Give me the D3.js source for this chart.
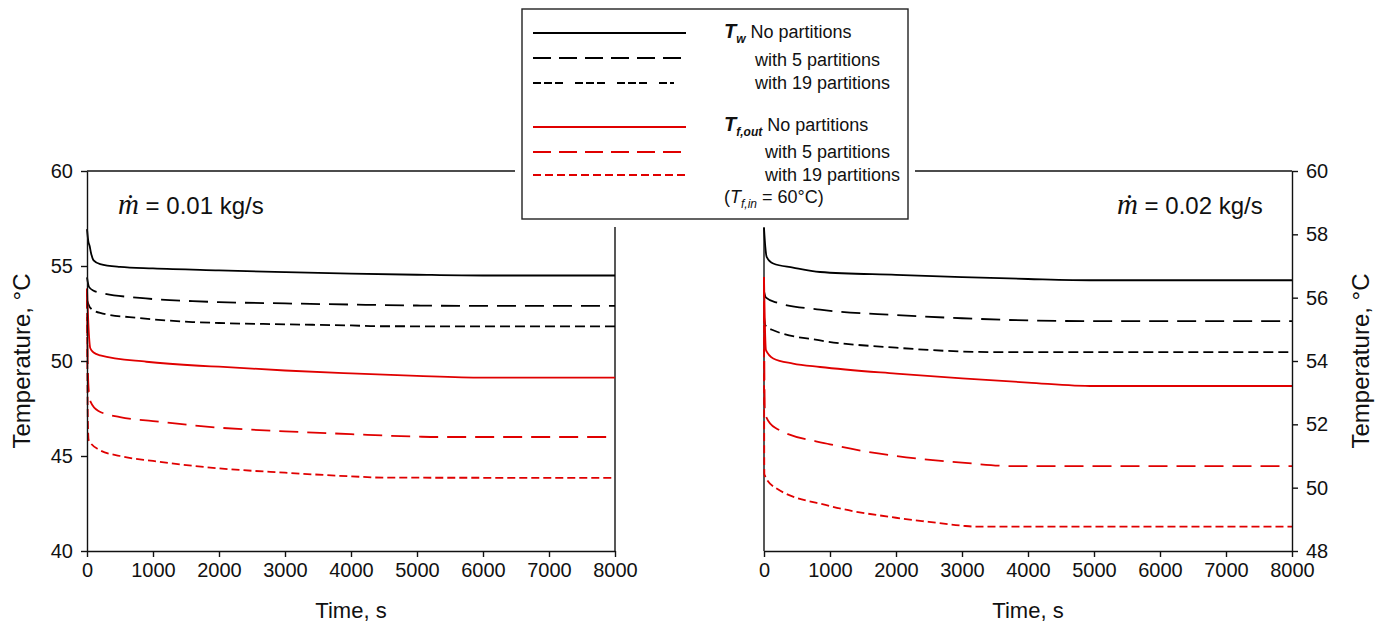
<!DOCTYPE html>
<html>
<head>
<meta charset="utf-8">
<script src="https://cdn.jsdelivr.net/npm/d3@7"></script>
<style>
  body { margin: 0; background: #fff; }
  text { font-family: Arial, "Liberation Sans", sans-serif; fill: #111; }
  .tick text { font-size: 20px; }
  .domain, .tick line { stroke: #111; stroke-width: 1.4px; }
</style>
</head>
<body>
<div id="container"></div>
<script>
// Hard Code values ---------- ---------- ----------
let canvasW = 1384, canvasH = 628;
let red = "#e00000", black = "#000";
let dashLong = "19,9", dashShortBlack = "10,5", dashShortRed = "8,4";

// Data: [time s, temperature °C] ---------- ---------- ----------
// m = 0.01 kg/s
let twNone1  = [[0,56.94],[20,56.3],[40,56.05],[60,55.7],[100,55.3],[200,55.1],[500,54.95],[1000,54.87],[2000,54.77],[3000,54.68],[4000,54.6],[5000,54.54],[6000,54.5],[8000,54.5]];
let tw5p1    = [[0,54.4],[30,53.9],[100,53.7],[200,53.6],[800,53.32],[1600,53.15],[2000,53.1],[3000,53.03],[4000,52.97],[5000,52.92],[5800,52.9],[8000,52.9]];
let tw19p1   = [[0,53.2],[50,52.8],[200,52.53],[800,52.26],[1600,52.05],[2000,52.0],[3000,51.93],[4000,51.87],[4400,51.83],[8000,51.82]];
let tfNone1  = [[0,53.8],[20,52.0],[50,50.67],[100,50.45],[200,50.3],[900,49.96],[1700,49.75],[2000,49.7],[3000,49.5],[4000,49.35],[5000,49.22],[6000,49.13],[8000,49.12]];
let tf5p1    = [[0,53.8],[10,50.0],[30,48.3],[55,47.85],[173,47.37],[500,47.05],[1000,46.84],[2000,46.49],[3000,46.3],[4000,46.15],[5000,46.02],[5300,46.0],[8000,46.0]];
let tf19p1   = [[0,53.8],[5,50.0],[15,46.5],[25,45.85],[173,45.35],[500,45.0],[1000,44.74],[2000,44.35],[3000,44.12],[4000,43.93],[4500,43.86],[8000,43.85]];
// m = 0.02 kg/s
let twNone2  = [[0,58.2],[20,57.6],[40,57.29],[140,57.08],[440,56.95],[850,56.81],[2000,56.72],[3000,56.65],[4000,56.59],[5000,56.55],[8000,56.55]];
let tw5p2    = [[0,56.2],[30,56.0],[200,55.84],[850,55.62],[2000,55.45],[3000,55.35],[4000,55.28],[5000,55.26],[8000,55.26]];
let tw19p2   = [[0,55.4],[20,55.13],[140,54.97],[850,54.65],[2000,54.42],[3000,54.3],[3500,54.28],[8000,54.28]];
let tfNone2  = [[0,56.65],[10,55.5],[30,54.34],[140,54.08],[440,53.92],[850,53.81],[2000,53.6],[3000,53.45],[4000,53.32],[5000,53.21],[8000,53.21]];
let tf5p2    = [[0,56.65],[5,54.0],[13,52.42],[20,52.3],[170,51.89],[1000,51.37],[2000,51.0],[3000,50.79],[3800,50.68],[8000,50.68]];
let tf19p2   = [[0,56.65],[3,51.5],[5,50.42],[170,50.0],[1000,49.42],[2000,49.05],[2500,48.92],[3000,48.8],[3200,48.77],[8000,48.77]];

let xTicks = [0,1000,2000,3000,4000,5000,6000,7000,8000];
let yTicks1 = [40,45,50,55,60], yTicks2 = [48,50,52,54,56,58,60];
let flowLabels = ["0.01 kg/s", "0.02 kg/s"];
let legendText = ["No partitions", "with 5 partitions", "with 19 partitions"];

//Initialize ---------- ---------- ----------
let uc = d3.select("#container").append("svg").attr("width", canvasW).attr("height", canvasH);
let plotTop = 171, plotBottom = 551;

//Draw panel ---------- ---------- ----------
function panel(x0, x1, yDomain, yTicks, side, series, flow, flowX)
{
    let xScale = d3.scaleLinear().domain([0, 8000]).range([x0, x1]);
    let yScale = d3.scaleLinear().domain(yDomain).range([plotBottom, plotTop]);
    let linePath = d3.line().x(d=>xScale(d[0])).y(d=>yScale(d[1])).curve(d3.curveMonotoneX);

    // frame (no ticks)
    let fx = side == "left" ? x1 : x0;
    uc.append("path").attr("d", d3.line()([[x0, plotTop], [x1, plotTop]])).attr("stroke", "#111").attr("stroke-width", 1.4);
    uc.append("path").attr("d", d3.line()([[fx, plotTop], [fx, plotBottom]])).attr("stroke", "#111").attr("stroke-width", 1.4);

    // curves
    series.forEach(s=>{
        uc.append("path").datum(s.data).attr("d", linePath).attr("fill", "none")
            .attr("stroke", s.color).attr("stroke-width", 1.8).attr("stroke-dasharray", s.dash);
    });

    // X axis
    uc.append("g").attr("transform", "translate(0," + plotBottom + ")")
        .call(d3.axisBottom(xScale).tickValues(xTicks).tickSize(6).tickSizeOuter(0).tickPadding(6).tickFormat(d3.format("d")));
    uc.append("text").attr("x", (x0+x1)/2).attr("y", 618).attr("text-anchor", "middle").style("font-size", "22px").text("Time, s");

    // Y axis
    if (side == "left") {
        uc.append("g").attr("transform", "translate(" + x0 + ",0)")
            .call(d3.axisLeft(yScale).tickValues(yTicks).tickSize(6).tickSizeOuter(0).tickPadding(8));
        uc.append("text").attr("transform", "translate(30," + (plotTop+plotBottom)/2 + ") rotate(-90)")
            .attr("text-anchor", "middle").style("font-size", "24px").text("Temperature, °C");
    } else {
        uc.append("g").attr("transform", "translate(" + x1 + ",0)")
            .call(d3.axisRight(yScale).tickValues(yTicks).tickSize(6).tickSizeOuter(0).tickPadding(8));
        uc.append("text").attr("transform", "translate(1369," + (plotTop+plotBottom)/2 + ") rotate(-90)")
            .attr("text-anchor", "middle").style("font-size", "24px").text("Temperature, °C");
    }

    // flow rate label
    let t = uc.append("text").attr("x", flowX).attr("y", 214).style("font-size", "24px");
    t.append("tspan").style("font-family", "'Liberation Serif', 'Times New Roman', serif").style("font-style", "italic").style("font-size", "29px").text("ṁ");
    t.append("tspan").text(" = " + flow);
}

panel(87, 615, [40, 60], yTicks1, "left", [
    {data: twNone1, color: black, dash: null}, {data: tw5p1, color: black, dash: dashLong}, {data: tw19p1, color: black, dash: dashShortBlack},
    {data: tfNone1, color: red, dash: null}, {data: tf5p1, color: red, dash: dashLong}, {data: tf19p1, color: red, dash: dashShortRed}
], flowLabels[0], 118);

panel(764, 1292, [48, 60], yTicks2, "right", [
    {data: twNone2, color: black, dash: null}, {data: tw5p2, color: black, dash: dashLong}, {data: tw19p2, color: black, dash: dashShortBlack},
    {data: tfNone2, color: red, dash: null}, {data: tf5p2, color: red, dash: dashLong}, {data: tf19p2, color: red, dash: dashShortRed}
], flowLabels[1], 1117);

// Legend ---------- ---------- ----------
uc.append("rect").attr("x", 515).attr("y", 2).attr("width", 400).attr("height", 225).attr("fill", "#fff");
uc.append("rect").attr("x", 522).attr("y", 9).attr("width", 386).attr("height", 210)
    .attr("fill", "#fff").attr("stroke", "#222").attr("stroke-width", 1.4);

let legRows = [
    {y: 33, color: black, dash: null, x2: 686, ty: 38}, {y: 58, color: black, dash: "18,8", x2: 686, ty: 66}, {y: 83, color: black, dash: "8,3,8,3,8,12", x2: 674, ty: 89},
    {y: 127, color: red, dash: null, x2: 686, ty: 131}, {y: 152, color: red, dash: "18,8", x2: 686, ty: 158}, {y: 175, color: red, dash: dashShortRed, x2: 686, ty: 181}
];
legRows.forEach((r, i)=>{
    uc.append("path").attr("d", d3.line()([[533, r.y], [r.x2, r.y]])).attr("stroke", r.color)
        .attr("stroke-width", 1.8).attr("stroke-dasharray", r.dash);
    let tx = (i % 3 == 0) ? null : (i < 3 ? 755 : 765);
    if (tx) uc.append("text").attr("x", tx).attr("y", r.ty).style("font-size", "18px").text(legendText[i % 3]);
});

// symbol labels
let sym1 = uc.append("text").attr("x", 724).attr("y", 38).style("font-size", "18px");
sym1.append("tspan").style("font-weight", "bold").style("font-style", "italic").style("font-size", "20px").text("T");
sym1.append("tspan").attr("dy", 5).style("font-weight", "bold").style("font-style", "italic").style("font-size", "12px").text("w");
sym1.append("tspan").attr("dy", -5).text(" " + legendText[0]);

let sym2 = uc.append("text").attr("x", 724).attr("y", 131).style("font-size", "18px");
sym2.append("tspan").style("font-weight", "bold").style("font-style", "italic").style("font-size", "20px").text("T");
sym2.append("tspan").attr("dy", 5).style("font-weight", "bold").style("font-style", "italic").style("font-size", "12px").text("f,out");
sym2.append("tspan").attr("dy", -5).text(" " + legendText[0]);

let sym3 = uc.append("text").attr("x", 724).attr("y", 203).style("font-size", "18px");
sym3.append("tspan").text("(");
sym3.append("tspan").style("font-style", "italic").text("T");
sym3.append("tspan").attr("dy", 5).style("font-style", "italic").style("font-size", "12px").text("f,in");
sym3.append("tspan").attr("dy", -5).text(" = 60°C)");
</script>
</body>
</html>
